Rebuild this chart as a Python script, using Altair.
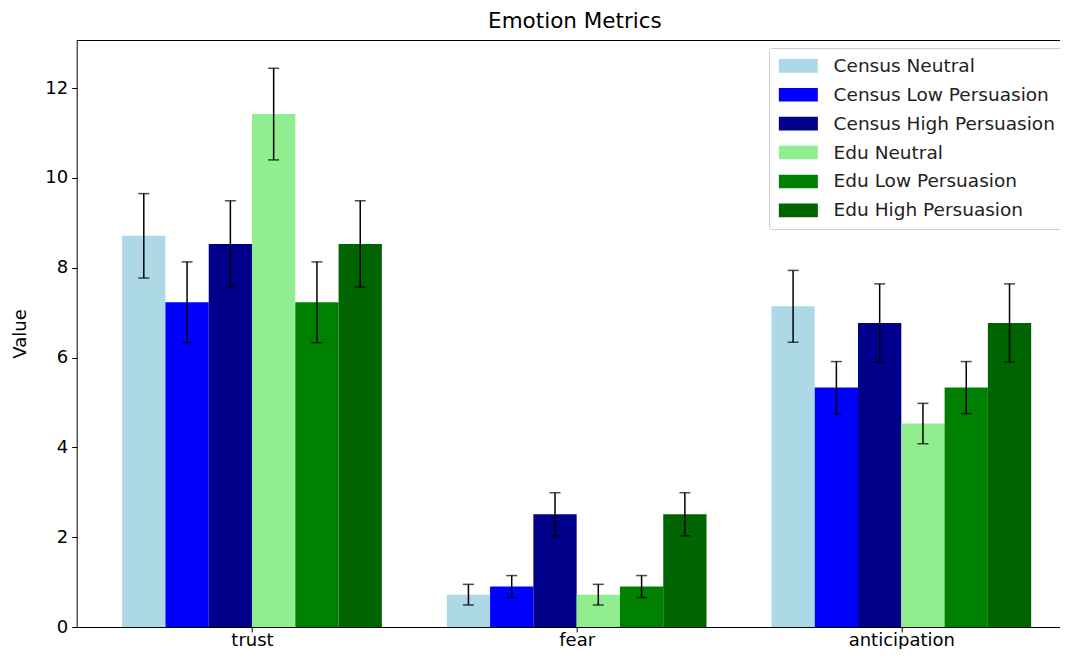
import altair as alt
import pandas as pd

categories = ["trust", "fear", "anticipation"]
series = ["Census Neutral", "Census Low Persuasion", "Census High Persuasion",
          "Edu Neutral", "Edu Low Persuasion", "Edu High Persuasion"]
colors = ["#add8e6", "#0000ff", "#00008b", "#90ee90", "#008000", "#006400"]

census_neutral = [8.71, 0.72, 7.14]
census_low = [7.23, 0.90, 5.33]
census_high = [8.53, 2.51, 6.77]
edu_neutral = [11.42, 0.72, 4.53]
edu_low = [7.23, 0.90, 5.33]
edu_high = [8.53, 2.51, 6.77]

err_census_neutral = [0.94, 0.23, 0.80]
err_census_low = [0.90, 0.245, 0.58]
err_census_high = [0.96, 0.48, 0.87]
err_edu_neutral = [1.02, 0.23, 0.45]
err_edu_low = [0.90, 0.245, 0.58]
err_edu_high = [0.96, 0.48, 0.87]

values = [census_neutral, census_low, census_high, edu_neutral, edu_low, edu_high]
errors = [err_census_neutral, err_census_low, err_census_high,
          err_edu_neutral, err_edu_low, err_edu_high]

rows = []
for si, name in enumerate(series):
    for ci, cat in enumerate(categories):
        rows.append({"cat": ci, "category": cat, "sidx": si, "series": name,
                     "value": values[si][ci], "err": errors[si][ci]})
df = pd.DataFrame(rows)

W = 0.8 / len(series)
FONT = "DejaVu Sans"
label_expr = "[" + ",".join("'%s'" % c for c in categories) + "][datum.value]"

PLOT_W = 983.3
PLOT_H = 587
X_MIN = -0.54
X_MAX = X_MIN + PLOT_W / 324.65

base = alt.Chart(df).transform_calculate(
    x0=f"datum.cat - 0.4 + datum.sidx * {W}",
    x1=f"datum.cat - 0.4 + (datum.sidx + 1) * {W}",
    xc=f"datum.cat - 0.4 + (datum.sidx + 0.5) * {W}",
    lo="datum.value - datum.err",
    hi="datum.value + datum.err",
    base0="0",
)

xscale = alt.Scale(domain=[X_MIN, X_MAX], nice=False, zero=False, padding=0)
yscale = alt.Scale(domain=[0, 13.07], nice=False, padding=0)

bars = base.mark_bar(strokeWidth=0, orient="vertical").encode(
    x=alt.X("x0:Q", scale=xscale,
            axis=alt.Axis(values=[0, 1, 2], labelExpr=label_expr, title=None,
                          grid=False, tickSize=5, labelPadding=13,
                          labelBaseline="alphabetic",
                          labelFontSize=18, labelFont=FONT, labelColor="black",
                          domainColor="black", tickColor="black", domainWidth=1)),
    x2="x1:Q",
    y=alt.Y("value:Q", scale=yscale,
            axis=alt.Axis(values=[0, 2, 4, 6, 8, 10, 12], title="Value", grid=False,
                          tickSize=5, labelPadding=4, labelFontSize=18,
                          labelFont=FONT, labelColor="black", domainColor="black",
                          tickColor="black", domainWidth=1,
                          titleFont=FONT, titleFontSize=18, titleFontWeight="normal",
                          titleColor="black", titleX=-56.5, titleBaseline="middle")),
    y2="base0:Q",
    color=alt.Color("series:N", scale=alt.Scale(domain=series, range=colors),
                    legend=alt.Legend(
                        orient="none", legendX=692.3, legendY=8, title=None,
                        symbolType="M-3.9,-1.36H3.9V1.36H-3.9Z", symbolSize=100,
                        symbolStrokeWidth=0, symbolOpacity=1, symbolOffset=11.5,
                        labelFont=FONT, labelFontSize=18.5, labelColor="#222222",
                        labelOffset=26, labelLimit=0, rowPadding=9.9, padding=8.6,
                        strokeColor="#cccccc", fillColor="white", cornerRadius=3)),
)

rules = base.mark_rule(color="black", strokeWidth=1.5).encode(
    x=alt.X("xc:Q", scale=xscale,
            axis=alt.Axis(orient="top", labels=False, ticks=False, title=None,
                          grid=False, domainColor="black", domainWidth=1)),
    y="lo:Q",
    y2="hi:Q",
)

caps_lo = base.mark_tick(color="black", thickness=1.5, size=11, orient="horizontal").encode(
    x=alt.X("xc:Q", scale=xscale, axis=None), y=alt.Y("lo:Q", scale=yscale))
caps_hi = base.mark_tick(color="black", thickness=1.5, size=11, orient="horizontal").encode(
    x=alt.X("xc:Q", scale=xscale, axis=None), y=alt.Y("hi:Q", scale=yscale))

chart = alt.layer(bars, rules, caps_lo, caps_hi).resolve_axis(x="independent").properties(
    width=PLOT_W, height=PLOT_H,
    autosize=alt.AutoSizeParams(type="none"),
    padding={"left": 68.7, "top": 32, "right": 0, "bottom": 22},
    title=alt.TitleParams("Emotion Metrics", font=FONT, fontSize=21.5, fontWeight="normal",
                          color="black", anchor="middle", offset=8, dx=6.6),
).configure_view(stroke=None)

chart.save("out.html", embed_options={"renderer": "svg", "actions": False})
